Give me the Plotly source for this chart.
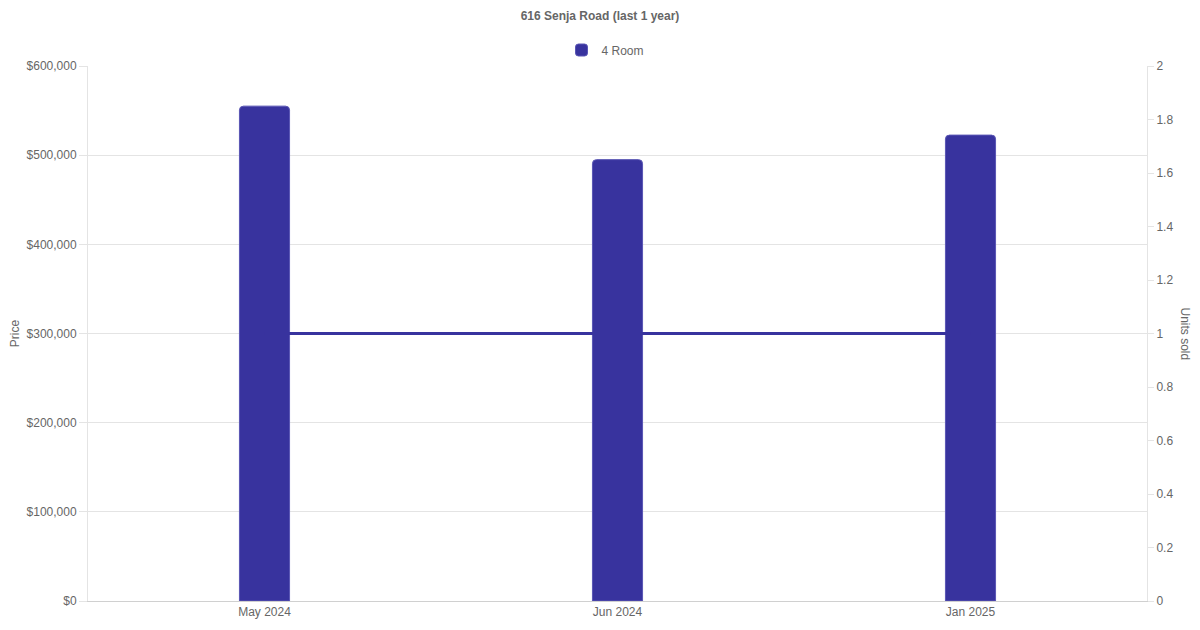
import plotly.graph_objects as go

months = ['May 2024', 'Jun 2024', 'Jan 2025']
prices = [555000, 495000, 522500]
units_sold = [1, 1, 1]

BAR_COLOR = '#38339E'
GRID = '#e4e4e4'
TEXT = '#666666'
FONT = 'Liberation Sans, Arial, sans-serif'

# the page body keeps an 8px margin, so the figure is sized a bit smaller
W, H = 1184, 614
L, R, T, B = 80, 45, 58, 21
plot_w = W - L - R
plot_h = H - T - B

fig = go.Figure()

fig.add_trace(go.Bar(
    x=months, y=prices, name='4 Room',
    marker=dict(color=BAR_COLOR, line=dict(color='#5a56b4', width=1)),
    width=0.142, yaxis='y',
))

fig.add_trace(go.Scatter(
    x=months, y=units_sold, name='4 Room', mode='lines',
    line=dict(color=BAR_COLOR, width=3), showlegend=False, yaxis='y2',
))

fig.update_layout(
    width=W, height=H,
    margin=dict(l=L, r=R, t=T, b=B),
    paper_bgcolor='white', plot_bgcolor='white',
    font=dict(family=FONT, size=12, color=TEXT),
    barcornerradius=4,
    title=dict(text='<b>616 Senja Road (last 1 year)</b>', x=0.5, xanchor='center',
               y=1 - 8 / H, yanchor='middle', font=dict(size=12, color=TEXT)),
    legend=dict(orientation='h', x=0.5 - 12 / plot_w, xanchor='center',
                y=1 + 16 / plot_h, yanchor='middle',
                font=dict(size=12, color=TEXT)),
    xaxis=dict(showgrid=False, showline=True, linecolor='#d0d0d0', linewidth=1,
               ticks='', tickfont=dict(size=12, color=TEXT), fixedrange=True,
               automargin=False),
    yaxis=dict(range=[0, 600000], dtick=100000, tickprefix='$', tickformat=',',
               showgrid=True, gridcolor=GRID, gridwidth=1, zeroline=False,
               showline=True, linecolor=GRID, ticks='outside', ticklen=8, tickcolor=GRID,
               title=dict(text='Price', font=dict(size=12, color=TEXT), standoff=16),
               tickfont=dict(size=12, color=TEXT), automargin=False),
    yaxis2=dict(range=[0, 2], dtick=0.2, overlaying='y', side='right',
                showgrid=False, zeroline=False, showline=True, linecolor=GRID,
                ticks='outside', ticklen=6, tickcolor=GRID,
                tickfont=dict(size=12, color=TEXT), automargin=False),
    annotations=[dict(text='Units sold', textangle=90, xref='paper', yref='paper',
                      x=1 + 38 / plot_w, y=0.5, xanchor='center', yanchor='middle',
                      showarrow=False, font=dict(size=12, color=TEXT))],
)

fig.write_html('out.html')
